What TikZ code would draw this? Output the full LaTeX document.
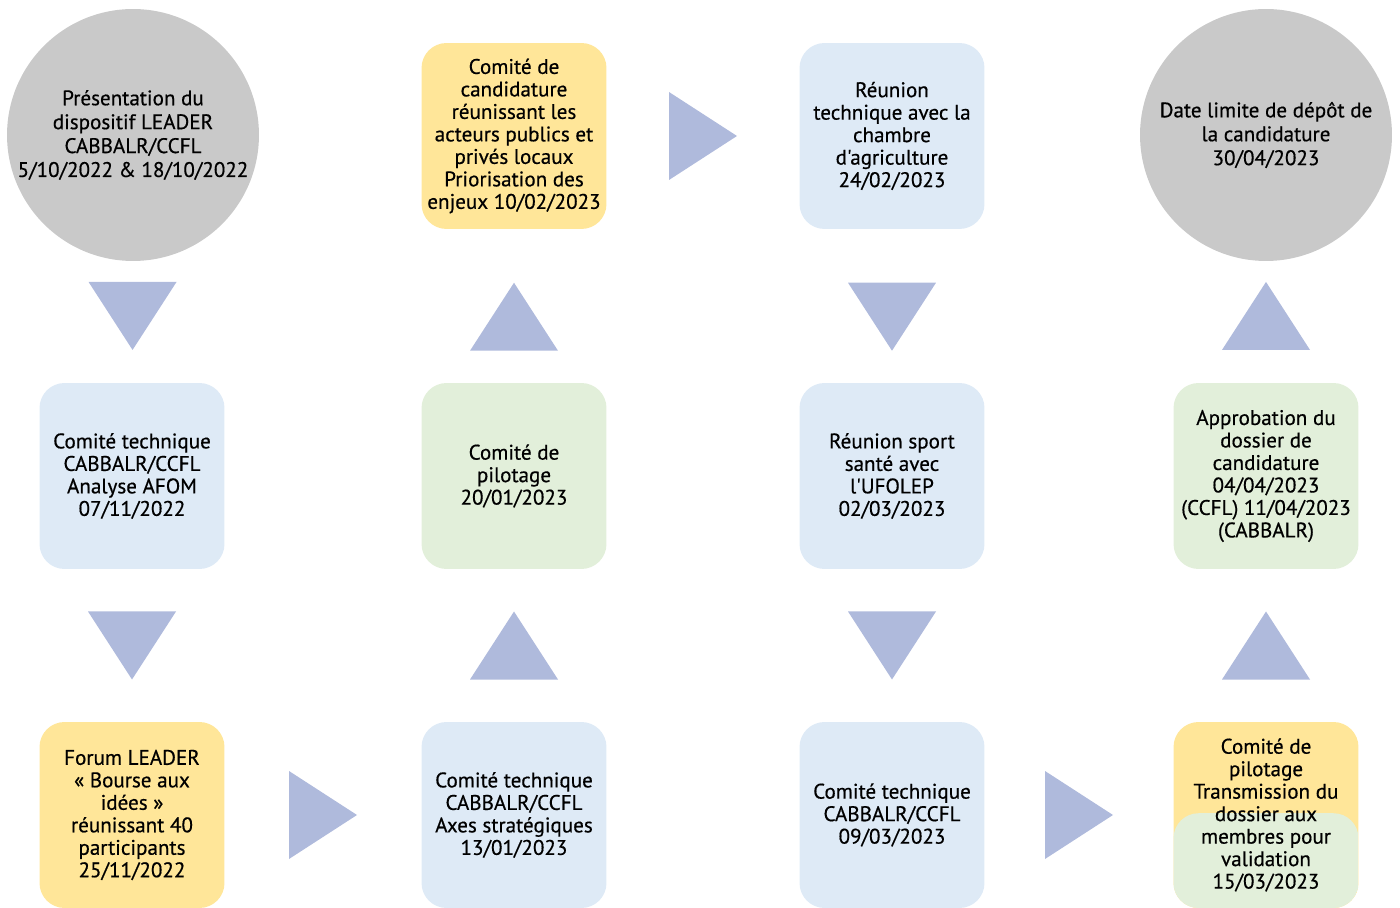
\documentclass[tikz,border=0pt]{standalone}
\usepackage{fontspec}
\setmainfont{PT Sans}
\newfontfamily\stagefont[FakeBold=0.5]{PT Sans}
\usetikzlibrary{calc}
\definecolor{greyfill}{HTML}{C9C9C9}
\definecolor{bluefill}{HTML}{DEEAF6}
\definecolor{yellowfill}{HTML}{FFE699}
\definecolor{greenfill}{HTML}{E2EFDA}
\definecolor{trifill}{HTML}{AFBADC}
\tikzset{
  stage/.style={rounded corners=0.5cm, minimum width=3.7cm, minimum height=3.72cm,
    inner sep=0pt, align=center, font=\stagefont\fontsize{12}{12.8}\selectfont},
  disc/.style={circle, fill=greyfill, minimum size=5.04cm, inner sep=0pt,
    align=center, font=\stagefont\fontsize{12}{13.6}\selectfont},
}
\begin{document}
\begin{tikzpicture}[x=0.02cm, y=-0.02cm]
  \useasboundingbox (0,0) rectangle (1400,908);
  % first column
  \node[disc] (c1) at (133,135) {Présentation du\\dispositif LEADER\\CABBALR/CCFL\\5/10/2022 \& 18/10/2022};
  \node[stage, fill=bluefill] (b2) at (132,476) {Comité technique\\CABBALR/CCFL\\Analyse AFOM\\07/11/2022};
  \node[stage, fill=yellowfill] (b3) at (132,815) {Forum LEADER\\« Bourse aux\\idées »\\réunissant 40\\participants\\25/11/2022};
  % second column
  \node[stage, fill=bluefill] (b4) at (514,815) {Comité technique\\CABBALR/CCFL\\Axes stratégiques\\13/01/2023};
  \node[stage, fill=greenfill] (b5) at (514,476) {Comité de\\pilotage\\20/01/2023};
  \node[stage, fill=yellowfill] (b6) at (514,136) {Comité de\\candidature\\réunissant les\\acteurs publics et\\privés locaux\\Priorisation des\\enjeux 10/02/2023};
  % third column
  \node[stage, fill=bluefill] (b7) at (892,136) {Réunion\\technique avec la\\chambre\\d'agriculture\\24/02/2023};
  \node[stage, fill=bluefill] (b8) at (892,476) {Réunion sport\\santé avec\\l'UFOLEP\\02/03/2023};
  \node[stage, fill=bluefill] (b9) at (892,815) {Comité technique\\CABBALR/CCFL\\09/03/2023};
  % fourth column
  \node[stage, fill=yellowfill, path picture={
      \fill[greenfill, rounded corners=0.5cm] ([yshift=1pt]path picture bounding box.west)
        rectangle (path picture bounding box.south east);}]
    (b10) at (1266,815) {Comité de\\pilotage\\Transmission du\\dossier aux\\membres pour\\validation\\15/03/2023};
  \node[stage, fill=greenfill] (b11) at (1266,476) {Approbation du\\dossier de\\candidature\\04/04/2023\\(CCFL) 11/04/2023\\(CABBALR)};
  \node[disc] (c12) at (1266,135) {Date limite de dépôt de\\la candidature\\30/04/2023};
  % triangles between the steps
  \foreach \a/\b/\t/\ang [count=\i] in {c1.south/b2.north/0.45/-90, b2.south/b3.north/0.5/-90,
      b3.east/b4.west/0.5/0, b4.north/b5.south/0.5/90, b5.north/b6.south/0.43/90,
      b6.east/b7.west/0.5/0, b7.south/b8.north/0.57/-90, b8.south/b9.north/0.5/-90,
      b9.east/b10.west/0.5/0, b10.north/b11.south/0.5/90, b11.north/c12.south/0.55/90} {
    \coordinate (t\i) at ($(\a)!\t!(\b)$);
    \fill[trifill, shift={(t\i)}, rotate=\ang] (-34,-44) -- (34,0) -- (-34,44) -- cycle;
  }
\end{tikzpicture}
\end{document}
